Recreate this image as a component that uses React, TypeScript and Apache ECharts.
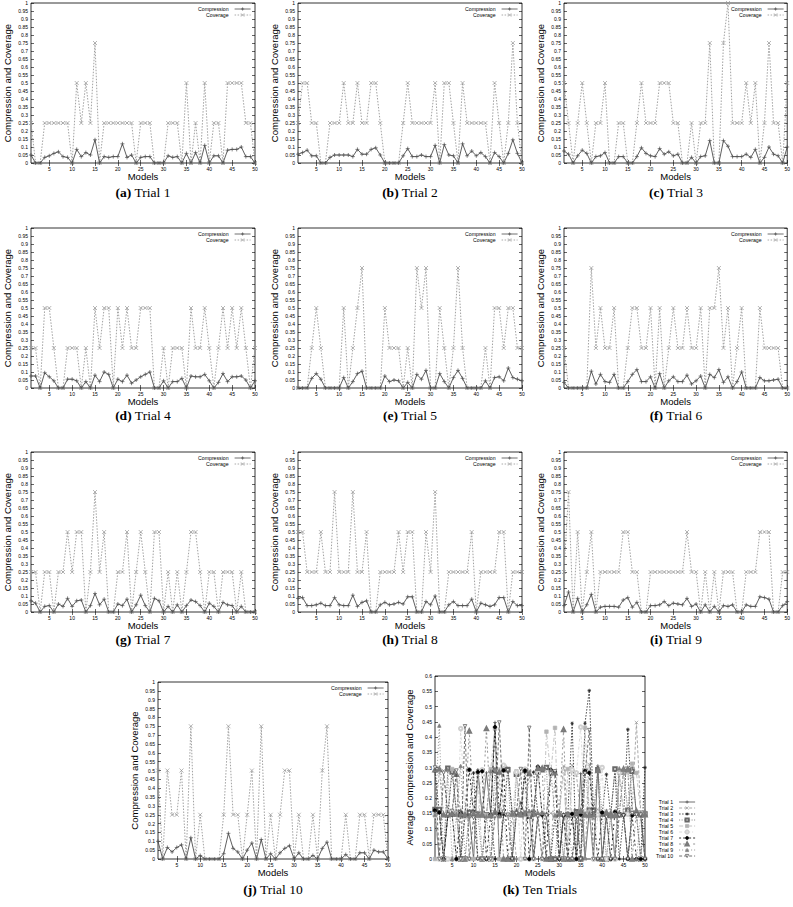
import React, { useEffect, useRef } from "react";
import * as echarts from "echarts";

const MODELS = [1,2,3,4,5,6,7,8,9,10,11,12,13,14,15,16,17,18,19,20,21,22,23,24,25,26,27,28,29,30,31,32,33,34,35,36,37,38,39,40,41,42,43,44,45,46,47,48,49,50];
const X_TICKS = [5,10,15,20,25,30,35,40,45,50];

const COMPRESSION_1 = [0.05,0,0,0.035,0.045,0.06,0.07,0.04,0.035,0, 0.085,0.04,0.065,0.05,0.145,0,0.04,0.035,0.04,0.04, 0.12,0.035,0.05,0,0.035,0.04,0.04,0,0,0, 0.045,0.035,0.04,0,0.06,0,0.065,0,0.11,0, 0.045,0.045,0,0.08,0.085,0.085,0.1,0.04,0.04,0];
const COVERAGE_1 = [0.25,0,0,0.25,0.25,0.25,0.25,0.25,0.25,0, 0.5,0.25,0.5,0.25,0.75,0,0.25,0.25,0.25,0.25, 0.25,0.25,0.25,0,0.25,0.25,0.25,0,0,0, 0.25,0.25,0.25,0,0.5,0,0.25,0,0.5,0, 0.25,0.25,0,0.5,0.5,0.5,0.5,0.25,0.25,0];

const COMPRESSION_2 = [0.055,0.065,0.08,0.045,0.045,0,0,0.035,0.05,0.05, 0.05,0.05,0.04,0.085,0.055,0.055,0.085,0.095,0.05,0, 0,0,0,0.045,0.09,0.04,0.04,0.05,0.04,0.04, 0.11,0,0.115,0.05,0.045,0,0.12,0.045,0.075,0.045, 0.065,0.04,0,0.065,0.04,0,0.06,0.145,0.06,0];
const COVERAGE_2 = [0.25,0.5,0.5,0.25,0.25,0,0,0.25,0.25,0.25, 0.5,0.25,0.25,0.5,0.25,0.25,0.5,0.5,0.25,0, 0,0,0,0.25,0.5,0.25,0.25,0.25,0.25,0.25, 0.5,0,0.5,0.5,0.25,0,0.5,0.25,0.25,0.25, 0.25,0.25,0,0.5,0.25,0,0.25,0.75,0.25,0];

const COMPRESSION_3 = [0.075,0.055,0,0.045,0.08,0.06,0,0.04,0.045,0.065, 0,0,0.04,0.04,0,0,0.04,0.095,0.06,0.045, 0.04,0.09,0.055,0.07,0.045,0.055,0,0,0.035,0, 0.04,0.045,0.14,0,0,0.14,0.105,0.04,0.04,0.04, 0.055,0.035,0.085,0,0.035,0.1,0.055,0.045,0,0.1];
const COVERAGE_3 = [0.5,0.25,0,0.25,0.5,0.25,0,0.25,0.25,0.5, 0,0,0.25,0.25,0,0,0.25,0.5,0.25,0.25, 0.25,0.5,0.5,0.5,0.25,0.25,0,0,0.25,0, 0.25,0.25,0.75,0,0,0.75,1,0.25,0.25,0.25, 0.5,0.25,0.5,0,0.25,0.75,0.25,0.25,0,0.5];

const COMPRESSION_4 = [0.075,0.075,0,0.095,0.07,0.045,0,0,0.055,0.055, 0.045,0,0.04,0,0.08,0.04,0.1,0.085,0,0.055, 0.04,0.08,0.03,0.05,0.07,0.085,0.1,0,0,0.045, 0,0.04,0.04,0.06,0,0.075,0.07,0.07,0.085,0.045, 0,0.035,0.09,0.04,0.07,0.07,0.075,0.05,0,0.045];
const COVERAGE_4 = [0.25,0.25,0,0.5,0.5,0.25,0,0,0.25,0.25, 0.25,0,0.25,0,0.5,0.25,0.5,0.5,0,0.5, 0.25,0.5,0.25,0.25,0.5,0.5,0.5,0,0,0.25, 0,0.25,0.25,0.25,0,0.5,0.25,0.25,0.5,0.25, 0,0.25,0.5,0.25,0.5,0.25,0.5,0.25,0,0.25];

const COMPRESSION_5 = [0,0,0,0.06,0.09,0.055,0,0,0,0, 0.065,0,0.04,0.09,0.105,0,0,0,0,0.075, 0.04,0.05,0.045,0,0.035,0,0.085,0.055,0.11,0, 0,0.09,0.04,0,0.065,0.11,0.06,0,0,0, 0,0.045,0,0.065,0.07,0.045,0.125,0.065,0.055,0.045];
const COVERAGE_5 = [0,0,0,0.25,0.5,0.25,0,0,0,0, 0.5,0,0.25,0.5,0.75,0,0,0,0,0.5, 0.25,0.25,0.25,0,0.25,0,0.75,0.5,0.75,0, 0,0.5,0.25,0,0.25,0.75,0.25,0,0,0, 0,0.25,0,0.5,0.5,0.25,0.5,0.5,0.25,0.25];

const COMPRESSION_6 = [0.035,0,0,0,0,0,0.105,0.025,0.085,0.04, 0.035,0.085,0,0,0.04,0.085,0.115,0.04,0.04,0.07, 0,0.09,0,0.045,0.07,0.04,0.04,0.08,0.025,0.045, 0.075,0,0.085,0.065,0.115,0.035,0.07,0,0.04,0.1, 0,0,0,0.065,0.045,0.045,0.05,0.055,0,0];
const COVERAGE_6 = [0.25,0,0,0,0,0,0.75,0.25,0.5,0.25, 0.25,0.5,0,0,0.25,0.5,0.5,0.25,0.25,0.5, 0,0.5,0,0.25,0.5,0.25,0.25,0.5,0.25,0.25, 0.5,0,0.5,0.5,0.75,0.25,0.5,0,0.25,0.5, 0,0,0,0.5,0.25,0.25,0.25,0.25,0,0];

const COMPRESSION_7 = [0.07,0.055,0,0.035,0.04,0,0.05,0.035,0.085,0.035, 0.07,0.075,0,0.04,0.115,0.045,0.08,0,0,0.05, 0.04,0.08,0,0.045,0.105,0.04,0,0.085,0.07,0, 0.035,0,0.045,0,0.04,0.075,0.065,0.04,0,0.055, 0.035,0,0.06,0.045,0.04,0,0.035,0,0,0];
const COVERAGE_7 = [0.25,0.25,0,0.25,0.25,0,0.25,0.25,0.5,0.25, 0.5,0.5,0,0.25,0.75,0.25,0.5,0,0,0.25, 0.25,0.5,0,0.25,0.5,0.25,0,0.5,0.5,0, 0.25,0,0.25,0,0.25,0.5,0.5,0.25,0,0.25, 0.25,0,0.25,0.25,0.25,0,0.25,0,0,0];

const COMPRESSION_8 = [0.085,0.09,0.04,0.04,0.045,0.055,0.04,0.04,0.09,0.045, 0.04,0.04,0.105,0.035,0.06,0.07,0,0,0.045,0.06, 0.045,0.05,0.06,0.05,0.095,0.095,0,0,0.065,0.045, 0.1,0,0,0.045,0.065,0.04,0.04,0.04,0.08,0, 0.055,0.045,0.035,0.045,0.09,0.09,0,0.065,0.04,0.04];
const COVERAGE_8 = [0.5,0.5,0.25,0.25,0.25,0.5,0.25,0.25,0.75,0.25, 0.25,0.25,0.75,0.25,0.25,0.5,0,0,0.25,0.25, 0.25,0.25,0.5,0.25,0.5,0.5,0,0,0.5,0.25, 0.75,0,0,0.25,0.25,0.25,0.25,0.25,0.5,0, 0.25,0.25,0.25,0.25,0.5,0.5,0,0.25,0.25,0.25];

const COMPRESSION_9 = [0.04,0.125,0,0.085,0,0.045,0.11,0,0.03,0.035, 0.035,0.035,0.03,0.075,0.09,0.03,0.06,0,0,0.04, 0.04,0.045,0.065,0.04,0.055,0.05,0.045,0.085,0.035,0.05, 0,0.045,0,0.035,0,0.04,0.035,0.045,0,0, 0.045,0.035,0.035,0.095,0.09,0.08,0,0,0.04,0.065];
const COVERAGE_9 = [0.25,0.75,0,0.5,0,0.25,0.5,0,0.25,0.25, 0.25,0.25,0.25,0.5,0.5,0.25,0.25,0,0,0.25, 0.25,0.25,0.25,0.25,0.25,0.25,0.25,0.5,0.25,0.25, 0,0.25,0,0.25,0,0.25,0.25,0.25,0,0, 0.25,0.25,0.25,0.5,0.5,0.5,0,0,0.25,0.25];

const COMPRESSION_10 = [0.1,0,0.065,0.04,0.065,0.08,0,0.12,0,0.02, 0,0,0,0,0.03,0.145,0.06,0.04,0,0.05, 0.09,0,0.11,0,0.03,0,0.035,0.06,0.075,0, 0.035,0,0,0.02,0,0.06,0.095,0,0,0, 0.025,0,0,0.035,0.035,0,0.05,0.04,0.04,0];
const COVERAGE_10 = [0.5,0,0.5,0.25,0.25,0.5,0,0.75,0,0.25, 0,0,0,0,0.25,0.75,0.25,0.25,0,0.25, 0.5,0,0.75,0,0.25,0,0.25,0.5,0.5,0, 0.25,0,0,0.25,0,0.5,0.75,0,0,0, 0.25,0,0,0.25,0.25,0,0.25,0.25,0.25,0];

const TRIAL_NAMES = ["Trial 1","Trial 2","Trial 3","Trial 4","Trial 5","Trial 6","Trial 7","Trial 8","Trial 9","Trial 10"];
const PANEL_LETTERS = ["a","b","c","d","e","f","g","h","i","j"];
const COMPRESSIONS = [COMPRESSION_1,COMPRESSION_2,COMPRESSION_3,COMPRESSION_4,COMPRESSION_5,COMPRESSION_6,COMPRESSION_7,COMPRESSION_8,COMPRESSION_9,COMPRESSION_10];
const COVERAGES = [COVERAGE_1,COVERAGE_2,COVERAGE_3,COVERAGE_4,COVERAGE_5,COVERAGE_6,COVERAGE_7,COVERAGE_8,COVERAGE_9,COVERAGE_10];

// layout (px) of each plot area
const LAYOUT = [
  { left: 31, top: 3, width: 224, height: 160 },
  { left: 298, top: 3, width: 224, height: 160 },
  { left: 564, top: 3, width: 224, height: 160 },
  { left: 31, top: 228, width: 224, height: 160 },
  { left: 298, top: 228, width: 224, height: 160 },
  { left: 564, top: 228, width: 224, height: 160 },
  { left: 31, top: 452, width: 224, height: 160 },
  { left: 298, top: 452, width: 224, height: 160 },
  { left: 564, top: 452, width: 224, height: 160 },
  { left: 158, top: 682, width: 230, height: 177 },
  { left: 435, top: 676, width: 210, height: 183 },
];
const CAPTION_Y = [192, 192, 192, 415, 415, 415, 639, 639, 639, 889, 889];

const PLUS = "path://M5,0L5,10M0,5L10,5";
const CROSS = "path://M0,0L10,10M0,10L10,0";
const STAR = "path://M5,0L5,10M0,5L10,5M1.6,1.6L8.4,8.4M1.6,8.4L8.4,1.6";
const INV_TRI = "path://M0,0L10,0L5,9Z";

const K_STYLES = [
  { color: "#4d4d4d", dash: "solid", symbol: PLUS, open: false },
  { color: "#969696", dash: [3, 2], symbol: CROSS, open: false },
  { color: "#1c1c1c", dash: [1.5, 1.5], symbol: STAR, open: false },
  { color: "#696969", dash: [1, 1.5], symbol: "emptyRect", open: false },
  { color: "#b3b3b3", dash: [4, 2, 1, 2], symbol: "rect", open: false },
  { color: "#d0d0d0", dash: [3, 2, 1, 2], symbol: "emptyCircle", open: false },
  { color: "#000000", dash: [2, 2, 2, 4], symbol: "circle", open: false },
  { color: "#7a7a7a", dash: [2, 2, 2, 2, 2, 4], symbol: "emptyTriangle", open: false },
  { color: "#808080", dash: [1, 2], symbol: "triangle", open: false },
  { color: "#4d4d4d", dash: [3, 2], symbol: INV_TRI, open: true },
];

const FONT = "Liberation Sans";
const fmt = (v: number) => String(Math.round(v * 100) / 100);

export default function App() {
  const ref = useRef<HTMLDivElement>(null);
  useEffect(() => {
    if (!ref.current) return;
    const chart = echarts.init(ref.current, null, { renderer: "svg" });

    const grid: any[] = [];
    const xAxis: any[] = [];
    const yAxis: any[] = [];
    const series: any[] = [];
    const legend: any[] = [];
    const graphic: any[] = [];

    const legendCommon = {
      orient: "vertical", align: "right", padding: 0, selectedMode: false,
      itemWidth: 16, itemHeight: 4, itemGap: 0,
      lineStyle: { width: 0.8 },
      itemStyle: { borderWidth: 0.7 },
      textStyle: { fontFamily: FONT, fontSize: 5.2, lineHeight: 6, color: "#000", padding: [0, 1, 0, 0] },
    };

    LAYOUT.forEach((L, i) => {
      const isK = i === 10;
      const yMax = isK ? 0.6 : 1;
      grid.push({ ...L, show: true, borderColor: "#000", borderWidth: 0.8, backgroundColor: "transparent" });
      const tickCommon = { show: true, inside: true, length: 3, lineStyle: { color: "#000", width: 0.6 } };
      xAxis.push({
        type: "value", gridIndex: i, min: 1, max: 50, position: "bottom",
        name: "Models", nameLocation: "middle", nameGap: 6,
        nameTextStyle: { fontFamily: FONT, fontSize: 9.5, lineHeight: 10, color: "#000", verticalAlign: "top" },
        axisLine: { show: false }, splitLine: { show: false },
        axisTick: { ...tickCommon, customValues: X_TICKS },
        axisLabel: { customValues: X_TICKS, fontFamily: FONT, fontSize: 5, color: "#000", margin: 3 },
      });
      xAxis.push({
        type: "value", gridIndex: i, min: 1, max: 50, position: "top",
        axisLine: { show: false }, splitLine: { show: false },
        axisTick: { ...tickCommon, customValues: X_TICKS },
        axisLabel: { show: false },
      });
      yAxis.push({
        type: "value", gridIndex: i, min: 0, max: yMax, interval: 0.05, position: "left",
        name: isK ? "Average Compression and Coverage" : "Compression and Coverage",
        nameLocation: "middle", nameGap: isK ? 21 : 19, nameRotate: 90,
        nameTextStyle: { fontFamily: FONT, fontSize: 9.5, color: "#000" },
        axisLine: { show: false }, splitLine: { show: false },
        axisTick: tickCommon,
        axisLabel: { fontFamily: FONT, fontSize: 5, color: "#000", margin: 3, formatter: fmt },
      });
      yAxis.push({
        type: "value", gridIndex: i, min: 0, max: yMax, interval: 0.05, position: "right",
        axisLine: { show: false }, splitLine: { show: false },
        axisTick: tickCommon, axisLabel: { show: false },
      });

      const cx = L.left + L.width / 2;
      const letter = isK ? "k" : PANEL_LETTERS[i];
      const label = isK ? "Ten Trials" : TRIAL_NAMES[i];
      graphic.push({
        type: "text", x: cx, y: CAPTION_Y[i],
        style: {
          text: "{b|(" + letter + ")} " + label,
          rich: { b: { fontFamily: "Liberation Serif", fontWeight: "bold", fontSize: 13.5, lineHeight: 14, fill: "#000" } },
          fontFamily: "Liberation Serif", fontSize: 13.5, lineHeight: 14, fill: "#000",
          align: "center", verticalAlign: "middle", textAlign: "center", textVerticalAlign: "middle",
        },
      });

      if (!isK) {
        const comp = COMPRESSIONS[i];
        const cov = COVERAGES[i];
        series.push({
          type: "line", name: "Compression", xAxisIndex: 2 * i, yAxisIndex: 2 * i,
          data: MODELS.map((m, k) => [m, comp[k]]),
          symbol: PLUS, symbolSize: 4, showAllSymbol: true,
          lineStyle: { color: "#4d4d4d", width: 0.9, type: "solid" },
          itemStyle: { color: "#4d4d4d", borderColor: "#4d4d4d", borderWidth: 0.7 },
          emphasis: { disabled: true }, z: 3,
        });
        series.push({
          type: "line", name: "Coverage", xAxisIndex: 2 * i, yAxisIndex: 2 * i,
          data: MODELS.map((m, k) => [m, cov[k]]),
          symbol: CROSS, symbolSize: 4, showAllSymbol: true,
          lineStyle: { color: "#969696", width: 0.9, type: [1.5, 1.5] },
          itemStyle: { color: "#969696", borderColor: "#969696", borderWidth: 0.7 },
          emphasis: { disabled: true }, z: 2,
        });
        legend.push({
          ...legendCommon,
          data: ["Compression", "Coverage"],
          right: 793 - (L.left + L.width - 4), top: L.top + 3,
        });
      } else {
        TRIAL_NAMES.forEach((name, t) => {
          const s = K_STYLES[t];
          const comp = COMPRESSIONS[t];
          const cov = COVERAGES[t];
          series.push({
            type: "line", name, xAxisIndex: 2 * i, yAxisIndex: 2 * i,
            data: MODELS.map((m, k) => [m, (comp[k] + cov[k]) / 2]),
            symbol: s.symbol, symbolSize: 3.5, showAllSymbol: true,
            lineStyle: { color: s.color, width: 0.8, type: s.dash },
            itemStyle: { color: s.open ? "#fff" : s.color, borderColor: s.color, borderWidth: 0.7 },
            emphasis: { disabled: true }, z: 2 + t * 0.1,
          });
        });
        legend.push({
          ...legendCommon,
          data: TRIAL_NAMES,
          left: 656, top: 799,
        });
      }
    });

    chart.setOption({
      animation: false,
      backgroundColor: "#fff",
      grid, xAxis, yAxis, series, legend, graphic,
    });
    return () => chart.dispose();
  }, []);

  return <div ref={ref} style={{ position: "absolute", left: 0, top: 0, width: 793, height: 907 }} />;
}
